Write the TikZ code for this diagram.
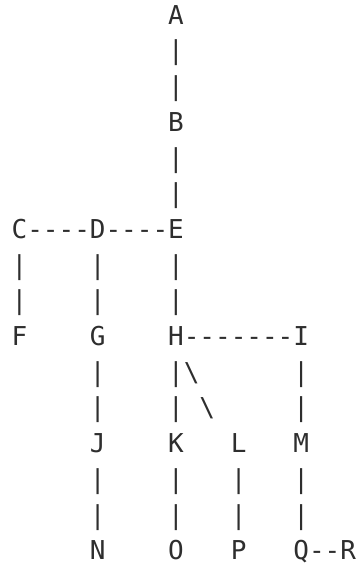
\documentclass[tikz,border=0pt]{standalone}
\usepackage{fontspec}
\newfontfamily\asciimono{DejaVu Sans Mono}

\begin{document}
\begin{tikzpicture}[
  x=15.65bp,y=-35.7bp,
  ch/.style={inner sep=0pt,anchor=base,text=black!82,font=\asciimono\fontsize{26bp}{30bp}\selectfont}
]
\useasboundingbox (-19.5bp,24.2bp) rectangle (336.5bp,-539.8bp);
% letters
\node[ch] (A) at (10,0) {A};
\node[ch] (B) at (10,3) {B};
\node[ch] (C) at (0,6) {C};
\node[ch] (D) at (5,6) {D};
\node[ch] (E) at (10,6) {E};
\node[ch] (F) at (0,9) {F};
\node[ch] (G) at (5,9) {G};
\node[ch] (H) at (10,9) {H};
\node[ch] (I) at (18,9) {I};
\node[ch] (J) at (5,12) {J};
\node[ch] (K) at (10,12) {K};
\node[ch] (L) at (14,12) {L};
\node[ch] (M) at (18,12) {M};
\node[ch] (N) at (5,15) {N};
\node[ch] (O) at (10,15) {O};
\node[ch] (P) at (14,15) {P};
\node[ch] (Q) at (18,15) {Q};
\node[ch] (R) at (21,15) {R};
% vertical links
\foreach \c/\r in {10/1,10/2,10/4,10/5,0/7,0/8,5/7,5/8,10/7,10/8,5/10,5/11,10/10,10/11,18/10,18/11,5/13,5/14,10/13,10/14,14/13,14/14,18/13,18/14}
  \node[ch] at (\c,\r) {|};
% horizontal links
\foreach \c/\r in {1/6,2/6,3/6,4/6,6/6,7/6,8/6,9/6,11/9,12/9,13/9,14/9,15/9,16/9,17/9,19/15,20/15}
  \node[ch] at (\c,\r) {-};
% diagonal
\node[ch] at (11,10) {\textbackslash};
\node[ch] at (12,11) {\textbackslash};
\end{tikzpicture}
\end{document}
